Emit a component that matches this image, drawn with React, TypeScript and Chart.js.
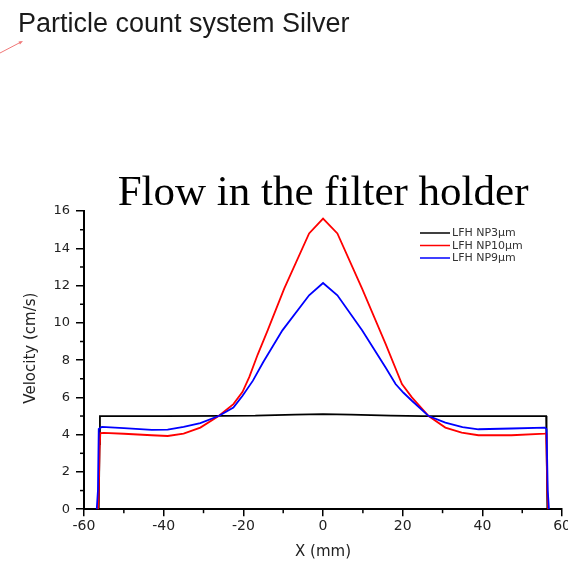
import { useEffect, useRef } from "react";
import { Chart, registerables } from "chart.js";

Chart.register(...registerables);

// Velocity profiles across the filter holder (x in mm, velocity in cm/s)
const np3X = [-56.3, -56.1, -56.0, -40, -25, -17, -12, -7, 0, 7, 12, 17, 25, 40, 56.0, 56.1, 56.3];
const np3V = [0, 3.5, 5.0, 5.0, 5.01, 5.02, 5.05, 5.08, 5.1, 5.08, 5.05, 5.02, 5.0, 5.0, 5.0, 3.5, 0];

const np10X = [-56.5, -56.3, -56.1, -55.9, -55, -50, -43, -39, -35, -30.8, -26.2, -22.5, -20.2, -18.5, -16.4, -13.9, -9.75, -3.5, 0, 3.6, 9.8, 15.7, 19.8, 22.3, 26.5, 30.7, 34.8, 39, 47.3, 55.7, 56.0, 56.1, 56.3, 56.5];
const np10V = [0, 0.9, 3.2, 4.08, 4.1, 4.05, 3.97, 3.93, 4.06, 4.38, 5.0, 5.64, 6.3, 7.1, 8.3, 9.6, 11.84, 14.8, 15.6, 14.8, 11.84, 8.87, 6.72, 6.0, 5.0, 4.38, 4.11, 3.97, 3.97, 4.06, 4.08, 3.2, 0.9, 0];

const np9X = [-56.8, -56.5, -56.3, -55.5, -50, -43, -39, -35, -30.8, -26.2, -22.5, -20.2, -17.6, -15, -10.2, -3.5, 0, 3.6, 9.8, 15.7, 18.2, 20.2, 22.3, 26.5, 30.7, 35, 39, 47.3, 55.7, 56.1, 56.4, 56.7];
const np9V = [0, 1.0, 4.3, 4.42, 4.35, 4.26, 4.27, 4.42, 4.62, 5.0, 5.46, 6.09, 6.9, 7.9, 9.6, 11.48, 12.14, 11.48, 9.6, 7.6, 6.72, 6.25, 5.82, 5.0, 4.65, 4.4, 4.29, 4.33, 4.38, 4.3, 1.0, 0];

const seriesLabels = ["LFH NP3μm", "LFH NP10μm", "LFH NP9μm"];
const seriesColors = ["#000000", "#ff0000", "#0000ff"];

const xMinorTicks = [-50, -30, -10, 10, 30, 50];
const yMinorTicks = [1, 3, 5, 7, 9, 11, 13, 15];

const pageTitle = "Particle count system Silver";
const chartTitle = "Flow in the filter holder";
const xAxisTitle = "X (mm)";
const yAxisTitle = "Velocity (cm/s)";

const toPoints = (xs: number[], ys: number[]) => xs.map((x, i) => ({ x, y: ys[i] }));

const minorTickPlugin = {
  id: "minorTicks",
  afterDraw(chart: any) {
    const { ctx, scales } = chart;
    const xs = scales.x;
    const ys = scales.y;
    ctx.save();
    ctx.strokeStyle = "#000";
    ctx.lineWidth = 1.5;
    for (const v of xMinorTicks) {
      const px = xs.getPixelForValue(v);
      ctx.beginPath();
      ctx.moveTo(px, xs.top);
      ctx.lineTo(px, xs.top + 4);
      ctx.stroke();
    }
    for (const v of yMinorTicks) {
      const py = ys.getPixelForValue(v);
      ctx.beginPath();
      ctx.moveTo(ys.right, py);
      ctx.lineTo(ys.right - 4, py);
      ctx.stroke();
    }
    ctx.restore();
  },
};

// Vertical axis caption, set a little above the axis midpoint
const yTitlePlugin = {
  id: "yTitle",
  afterDraw(chart: any) {
    const { ctx, chartArea } = chart;
    const cy = (chartArea.top + chartArea.bottom) / 2 - 12;
    ctx.save();
    ctx.translate(31, cy);
    ctx.rotate(-Math.PI / 2);
    ctx.font = "15px 'DejaVu Sans'";
    ctx.fillStyle = "#222";
    ctx.textAlign = "center";
    ctx.textBaseline = "middle";
    ctx.fillText(yAxisTitle, 0, 0);
    ctx.restore();
  },
};

const insideLegendPlugin = {
  id: "insideLegend",
  afterDraw(chart: any) {
    const { ctx } = chart;
    const x0 = 420;
    const x1 = 450;
    const y0 = 233;
    const step = 12.5;
    ctx.save();
    ctx.font = "11px 'DejaVu Sans'";
    ctx.textBaseline = "middle";
    ctx.textAlign = "left";
    seriesLabels.forEach((label, i) => {
      const y = y0 + i * step;
      ctx.strokeStyle = seriesColors[i];
      ctx.lineWidth = 1.5;
      ctx.beginPath();
      ctx.moveTo(x0, y);
      ctx.lineTo(x1, y);
      ctx.stroke();
      ctx.fillStyle = "#333";
      ctx.fillText(label, x1 + 2, y + 0.5);
    });
    ctx.restore();
  },
};

const pointerPlugin = {
  id: "pointer",
  afterDraw(chart: any) {
    const { ctx } = chart;
    ctx.save();
    ctx.strokeStyle = "#f07878";
    ctx.fillStyle = "#f07878";
    ctx.lineWidth = 1;
    ctx.beginPath();
    ctx.moveTo(0, 53);
    ctx.lineTo(21, 42);
    ctx.stroke();
    ctx.beginPath();
    ctx.moveTo(23, 41);
    ctx.lineTo(18.5, 41.6);
    ctx.lineTo(20, 44.4);
    ctx.closePath();
    ctx.fill();
    ctx.restore();
  },
};

export default function App() {
  const canvasRef = useRef<HTMLCanvasElement | null>(null);

  useEffect(() => {
    if (!canvasRef.current) return;
    const line = (i: number, xs: number[], ys: number[], order: number) => ({
      label: seriesLabels[i],
      data: toPoints(xs, ys),
      borderColor: seriesColors[i],
      borderWidth: 1.8,
      pointRadius: 0,
      tension: 0,
      order,
    });
    const chart = new Chart(canvasRef.current, {
      type: "line",
      data: {
        datasets: [line(0, np3X, np3V, 2), line(1, np10X, np10V, 1), line(2, np9X, np9V, 0)],
      },
      options: {
        animation: false,
        responsive: false,
        layout: { padding: { left: 18, right: 8, top: 0, bottom: 0 } },
        plugins: {
          legend: { display: false },
          tooltip: { enabled: false },
          title: {
            display: true,
            text: pageTitle,
            align: "start",
            color: "#1a1a1a",
            font: { family: "'Liberation Sans', Arial, sans-serif", size: 27, weight: "normal", lineHeight: 1.2 },
            padding: { top: 8, bottom: 135 },
          },
          subtitle: {
            display: true,
            text: chartTitle,
            fullSize: false,
            color: "#000",
            font: { family: "'Liberation Serif', 'Times New Roman', serif", size: 43, lineHeight: 0.83 },
            padding: { top: 0, bottom: 0 },
          },
        },
        scales: {
          x: {
            type: "linear",
            min: -60,
            max: 60,
            ticks: {
              stepSize: 20,
              autoSkip: false,
              maxRotation: 0,
              padding: 2,
              color: "#222",
              font: { family: "'DejaVu Sans'", size: 14 },
            },
            grid: { drawOnChartArea: false, drawTicks: true, tickLength: 7, color: "#000", lineWidth: 1.5 },
            border: { display: true, color: "#000", width: 2 },
            title: {
              display: true,
              text: xAxisTitle,
              color: "#222",
              font: { family: "'DejaVu Sans'", size: 15 },
              padding: { top: 6, bottom: 0 },
            },
          },
          y: {
            type: "linear",
            min: 0,
            max: 16,
            afterFit(scale: any) {
              scale.width = 66;
            },
            ticks: {
              stepSize: 2,
              padding: 6,
              color: "#222",
              font: { family: "'DejaVu Sans'", size: 13 },
            },
            grid: { drawOnChartArea: false, drawTicks: true, tickLength: 8, color: "#000", lineWidth: 1.5 },
            border: { display: true, color: "#000", width: 2 },
          },
        },
      },
      plugins: [minorTickPlugin, yTitlePlugin, insideLegendPlugin, pointerPlugin],
    });
    return () => chart.destroy();
  }, []);

  return (
    <div style={{ position: "fixed", left: 0, top: 0, width: 568, height: 561, overflow: "hidden", background: "#fff" }}>
      <canvas ref={canvasRef} width={573} height={561} style={{ display: "block" }} />
    </div>
  );
}
